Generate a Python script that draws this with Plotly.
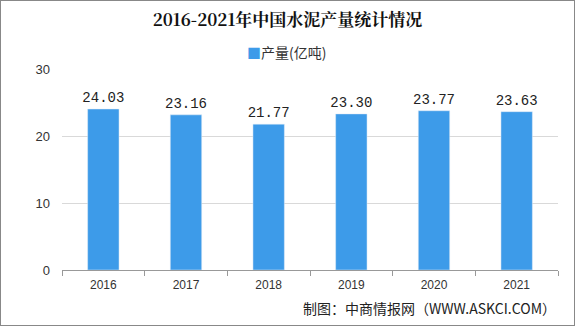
import plotly.graph_objects as go

years = ["2016", "2017", "2018", "2019", "2020", "2021"]
output = [24.03, 23.16, 21.77, 23.30, 23.77, 23.63]
labels = ["24.03", "23.16", "21.77", "23.30", "23.77", "23.63"]
y_ticks = [0, 10, 20, 30]
bar_color = "#3d9be9"
series_name = "产量(亿吨)"

fig = go.Figure()
fig.add_trace(go.Bar(
    x=years, y=output, name=series_name, showlegend=False,
    marker_color=bar_color,
    text=labels, textposition="outside", constraintext="none",
    textfont=dict(size=14, color="#222", family="Liberation Mono"),
    cliponaxis=False,
))

fig.update_layout(
    width=575, height=326,
    margin=dict(l=62, r=17, t=69, b=56),
    paper_bgcolor="white", plot_bgcolor="white",
    bargap=0.62,
    font=dict(family="Noto Sans CJK SC", color="#333"),
    title=dict(text="<b>2016-2021年中国水泥产量统计情况</b>", x=0.5, xanchor="center",
               y=0.94, yanchor="middle",
               font=dict(size=17, color="#111", family="Noto Serif CJK SC, Noto Sans CJK SC")),
    showlegend=False,
    xaxis=dict(showline=True, linecolor="#999", ticks="outside", tickson="boundaries",
               ticklen=5, tickcolor="#999", ticklabelstandoff=4,
               tickfont=dict(size=12, color="#333", family="Liberation Sans, DejaVu Sans")),
    yaxis=dict(range=[0, 30], tickvals=y_ticks, showgrid=True, gridcolor="#d9d9d9",
               zeroline=False, ticks="", tickfont=dict(size=13, color="#333",
               family="Liberation Sans, DejaVu Sans"), ticklabelstandoff=11),
)

# legend drawn as text with a coloured square
fig.add_annotation(text=f'<span style="color:{bar_color}">■</span>{series_name}',
                   xref="paper", yref="paper", x=(286 - 62) / 496, xanchor="center",
                   y=1 + 17 / 201, yanchor="middle", showarrow=False,
                   font=dict(size=14, color="#333"))

fig.add_annotation(text="制图：中商情报网（WWW.ASKCI.COM）", xref="paper", yref="paper",
                   x=1.0, xanchor="right", y=-0.19, yanchor="middle", showarrow=False,
                   font=dict(size=14, color="#222"))

fig.add_shape(type="rect", xref="paper", yref="paper", x0=-62/496, x1=1+17/496,
              y0=-56/201, y1=1+69/201, line=dict(color="#888", width=2))

fig.write_html("out.html")
